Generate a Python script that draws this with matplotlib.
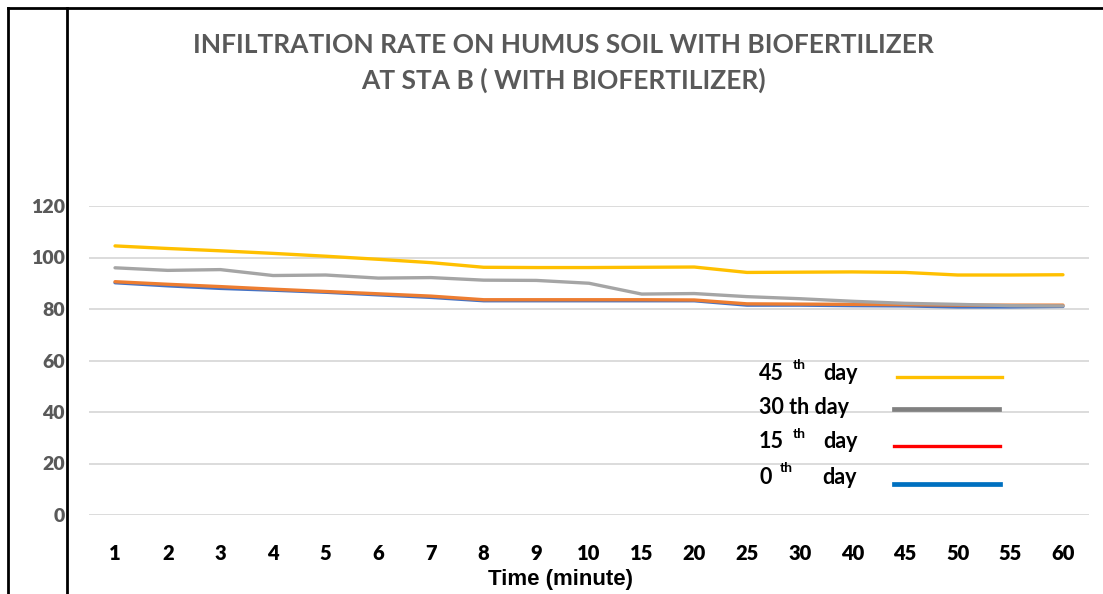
import matplotlib
matplotlib.use("Agg")
import matplotlib.pyplot as plt
from matplotlib.lines import Line2D

# time labels (minute), categorical axis
time_labels = ['1', '2', '3', '4', '5', '6', '7', '8', '9', '10',
               '15', '20', '25', '30', '40', '45', '50', '55', '60']

# infiltration rate per observation day
day_0 = [90.2, 89.0, 88.0, 87.3, 86.5, 85.5, 84.5, 83.2, 83.2, 83.2,
         83.2, 83.2, 81.5, 81.5, 81.3, 81.2, 80.8, 80.8, 81.0]
day_15 = [90.6, 89.6, 88.7, 87.7, 86.8, 85.9, 85.0, 83.6, 83.6, 83.6,
          83.6, 83.5, 82.0, 81.9, 81.8, 81.7, 81.5, 81.5, 81.5]
day_30 = [96.0, 95.0, 95.3, 93.0, 93.2, 92.0, 92.2, 91.2, 91.1, 90.0,
          85.8, 86.0, 84.8, 84.0, 83.0, 82.2, 81.8, 81.3, 81.2]
day_45 = [104.5, 103.5, 102.6, 101.6, 100.5, 99.3, 98.0, 96.2, 96.1, 96.1,
          96.2, 96.3, 94.2, 94.3, 94.4, 94.2, 93.2, 93.2, 93.3]

y_ticks = [0, 20, 40, 60, 80, 100, 120]

W, H = 1103, 594
fig = plt.figure(figsize=(W / 100, H / 100), dpi=100)
font = 'Lato'

def fx(px):
    return px / W

def fy(py):
    return 1 - py / H

# plot area
ax = fig.add_axes([fx(88.7), fy(515), fx(1089.3) - fx(88.7), fy(206) - fy(515)])
x = list(range(len(time_labels)))
ax.plot(x, day_0, color='#4472C4', lw=2.4, solid_capstyle='round')
ax.plot(x, day_15, color='#ED7D31', lw=2.4, solid_capstyle='round')
ax.plot(x, day_30, color='#A5A5A5', lw=2.4, solid_capstyle='round')
ax.plot(x, day_45, color='#FFC000', lw=2.4, solid_capstyle='round')

ax.set_xlim(-0.5, len(time_labels) - 0.5)
ax.set_ylim(0, 120)
ax.set_yticks(y_ticks)
ax.set_xticks(x)
ax.set_xticklabels(time_labels)
for s in ax.spines.values():
    s.set_visible(False)
ax.grid(axis='y', color='#D9D9D9', lw=1.3)
ax.set_axisbelow(True)
ax.tick_params(length=0)
ax.tick_params(axis='y', pad=17, labelsize=14, labelcolor='#595959')
ax.tick_params(axis='x', pad=21, labelsize=14.5, labelcolor='black')
for lab in ax.get_xticklabels() + ax.get_yticklabels():
    lab.set_fontfamily(font)
    lab.set_fontweight('heavy')

ax.set_xlabel('Time (minute)', fontsize=16, fontweight='bold',
              family='Liberation Sans')
ax.xaxis.set_label_coords((560 - 88.7) / (1089.3 - 88.7), -(580 - 515) / 309)
ax.xaxis.label.set_va('center')

# title
fig.text(fx(563), fy(45), 'INFILTRATION RATE ON HUMUS SOIL WITH BIOFERTILIZER',
         ha='center', va='center', fontsize=19, color='#595959',
         family=font, fontweight='bold')
fig.text(fx(563), fy(80), 'AT STA B ( WITH BIOFERTILIZER)',
         ha='center', va='center', fontsize=19, color='#595959',
         family=font, fontweight='bold')

# hand-made legend
leg_kw = dict(va='center', ha='left', fontsize=15.5, color='black',
              family=font, fontweight='bold')
sup_kw = dict(va='center', ha='left', fontsize=10, color='black',
              family=font, fontweight='bold')
fig.text(fx(759), fy(373), '45', **leg_kw)
fig.text(fx(793), fy(365), 'th', **sup_kw)
fig.text(fx(823), fy(373), 'day', **leg_kw)
fig.text(fx(759), fy(407), '30 th day', **leg_kw)
fig.text(fx(759), fy(442), '15', **leg_kw)
fig.text(fx(793), fy(434), 'th', **sup_kw)
fig.text(fx(823), fy(442), 'day', **leg_kw)
fig.text(fx(759), fy(477), '0', **leg_kw)
fig.text(fx(780), fy(468), 'th', **sup_kw)
fig.text(fx(822), fy(477), 'day', **leg_kw)

legend_lines = [(897, 1002, 377, '#FFC000', 2.4),
                (894, 999, 409, '#808080', 3.4),
                (894, 1000, 446, '#FF0000', 2.4),
                (894, 1000, 484, '#0070C0', 3.4)]
for x0, x1, yy, c, lw in legend_lines:
    fig.add_artist(Line2D([fx(x0), fx(x1)], [fy(yy), fy(yy)], color=c, lw=lw))

# table-like frame lines
frame_kw = dict(color='black', lw=2.0)
fig.add_artist(Line2D([fx(8), fx(8)], [fy(8), 0], **frame_kw))
fig.add_artist(Line2D([fx(67), fx(67)], [fy(8), 0], **frame_kw))
fig.add_artist(Line2D([fx(8), 1], [fy(8), fy(8)], **frame_kw))

fig.savefig('out.png', dpi=100)
